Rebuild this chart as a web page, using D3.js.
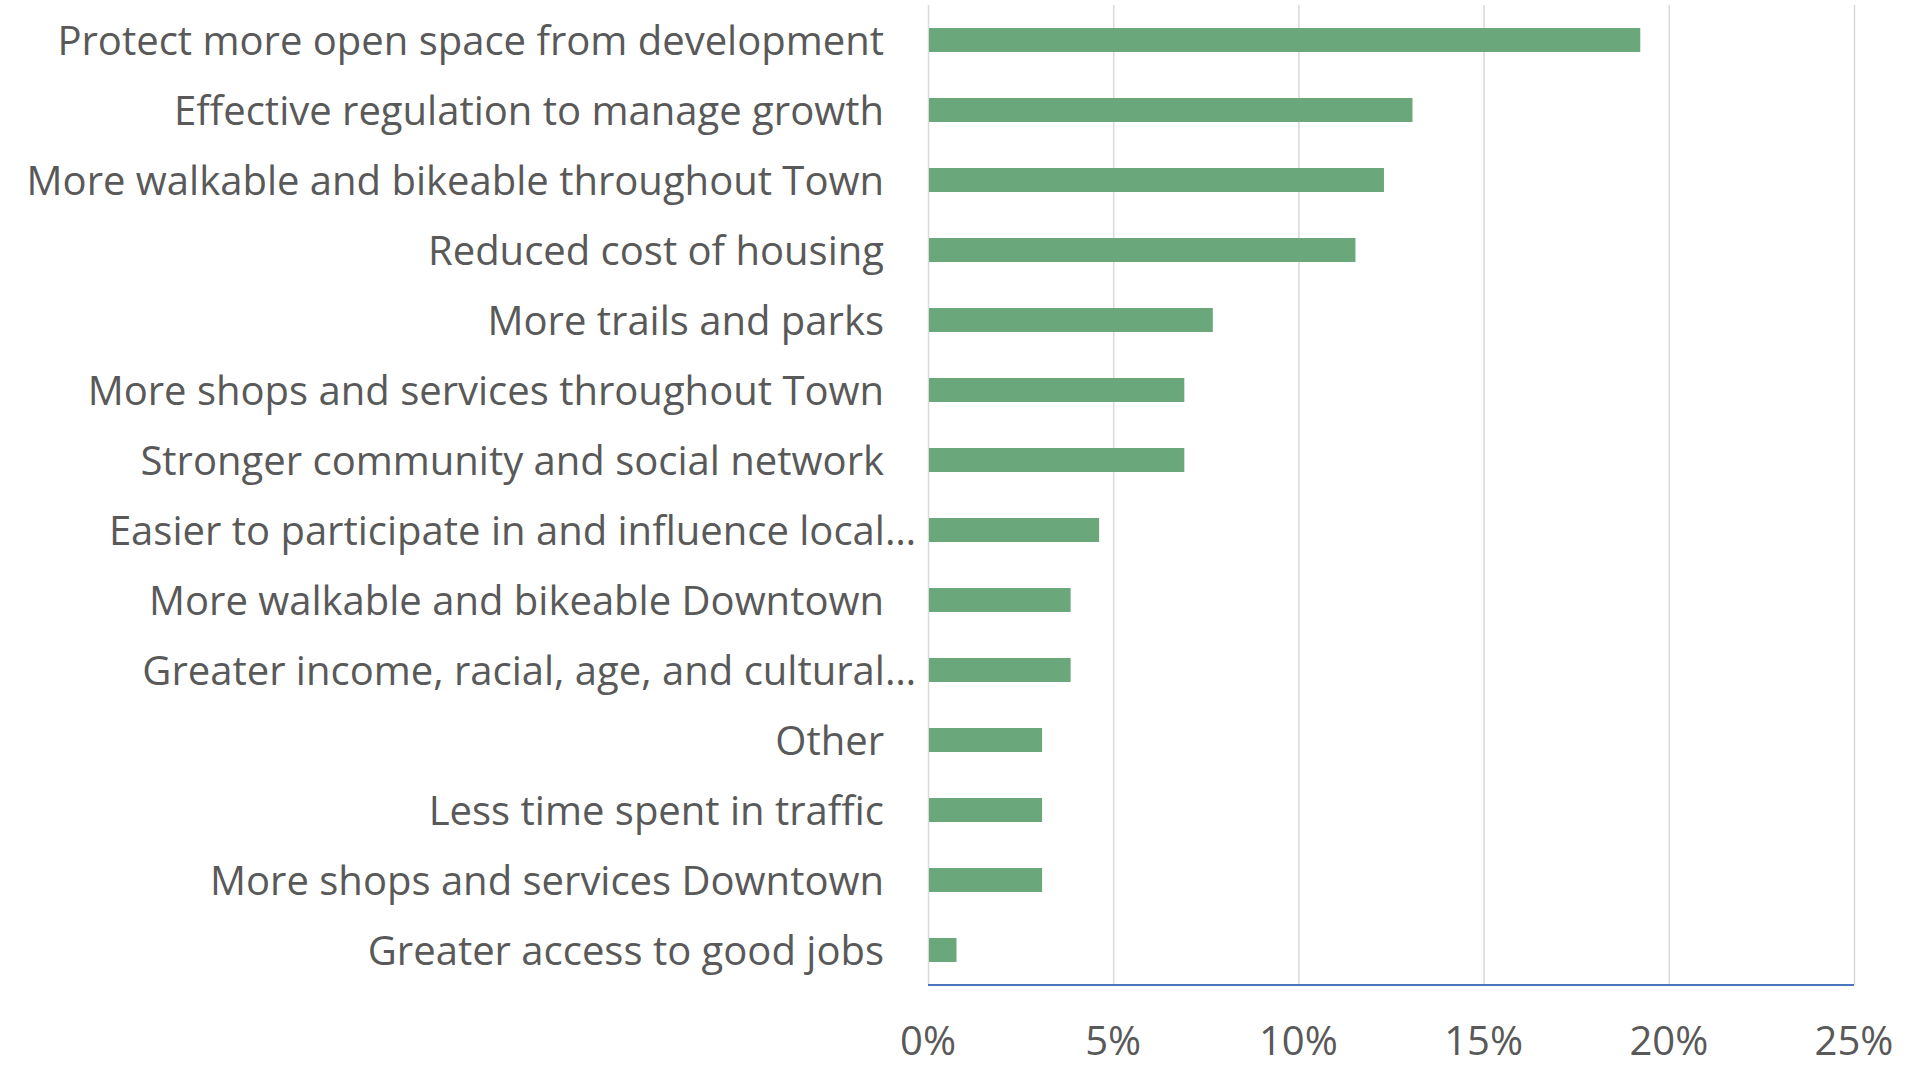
<!DOCTYPE html>
<html lang="en">
<head>
    <meta charset="UTF-8">
    <title>Priorities</title>
    <style>
        body{ margin:0; background:#fff; }
        text{ font-family:"Open Sans", sans-serif; fill:#595959; }
        .grid line{ stroke:#d9d9d9; stroke-width:1.5px; }
        .grid path{ display:none; }
    </style>
    <script src="https://d3js.org/d3.v7.min.js"></script>
</head>
<body>
    <div class="canvas"></div>
    <script>
    // answers, top to bottom
    const categories = [
        'Protect more open space from development',
        'Effective regulation to manage growth',
        'More walkable and bikeable throughout Town',
        'Reduced cost of housing',
        'More trails and parks',
        'More shops and services throughout Town',
        'Stronger community and social network',
        'Easier to participate in and influence local\u2026',
        'More walkable and bikeable Downtown',
        'Greater income, racial, age, and cultural\u2026',
        'Other',
        'Less time spent in traffic',
        'More shops and services Downtown',
        'Greater access to good jobs'
    ];
    // share of responses, %
    const shares = [19.23, 13.08, 12.31, 11.54, 7.69, 6.92, 6.92, 4.62, 3.85, 3.85, 3.08, 3.08, 3.08, 0.77];
    const tickValues = [0, 5, 10, 15, 20, 25];

    const width = 1924, height = 1067;
    const fontSize = 40;

    const svg = d3.select('.canvas')
                    .append('svg')
                    .attr('width', width)
                    .attr('height', height);

    const x = d3.scaleLinear().domain([0, 25]).range([928, 1854]);
    const y = d3.scaleBand()
                .domain(categories)
                .range([5, 985])
                .paddingInner(0.657)
                .paddingOuter(0.3286);

    // vertical gridlines
    svg.append('g')
        .attr('class', 'grid')
        .attr('transform', 'translate(0,985)')
        .call(d3.axisBottom(x).tickValues(tickValues).tickSize(-980).tickFormat(''));

    // bars
    svg.append('g')
        .selectAll('rect')
        .data(shares)
        .enter()
        .append('rect')
        .attr('x', x(0) + 1)
        .attr('y', (d, i) => y(categories[i]))
        .attr('width', d => x(d) - x(0) - 1)
        .attr('height', y.bandwidth())
        .attr('fill', '#6aa87b');

    // bottom axis line
    svg.append('line')
        .attr('x1', x(0))
        .attr('x2', x(25))
        .attr('y1', 985)
        .attr('y2', 985)
        .attr('stroke', '#4a76c0')
        .attr('stroke-width', 2);

    // category labels (the cut-off ones run a bit further right)
    svg.append('g')
        .selectAll('text')
        .data(categories)
        .enter()
        .append('text')
        .attr('x', d => d.endsWith('\u2026') ? 916 : 884)
        .attr('y', d => y(d) + y.bandwidth() / 2)
        .attr('dy', '0.38em')
        .attr('text-anchor', 'end')
        .style('font-size', fontSize + 'px')
        .text(d => d);

    // tick labels
    svg.append('g')
        .selectAll('text')
        .data(tickValues)
        .enter()
        .append('text')
        .attr('x', d => x(d))
        .attr('y', 1055)
        .attr('text-anchor', 'middle')
        .style('font-size', fontSize + 'px')
        .text(d => d + '%');
    </script>
</body>
</html>
